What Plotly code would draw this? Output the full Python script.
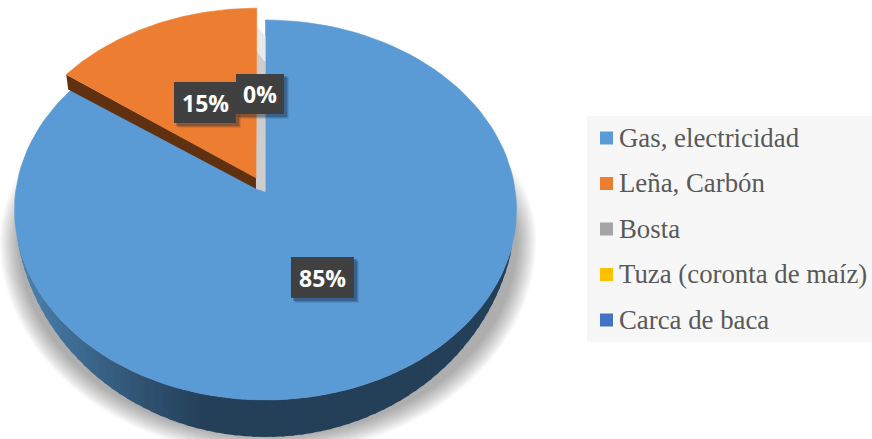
import math
import plotly.graph_objects as go

categories = ["Gas, electricidad", "Leña, Carbón", "Bosta", "Tuza (coronta de maíz)", "Carca de baca"]
values = [85, 15, 0, 0, 0]
colors = ["#5b9bd5", "#ed7d31", "#a5a5a5", "#ffc000", "#4472c4"]

W, H = 872, 439
APEX_X, APEX_Y = 265.5, 192
Q, P, AX = 0.0947, 188.3, 249.9     # perspective of the tilted disc
WALL_CY, WALL_S = 235, 1.224
EXPLODE = 0.085


def project(u, v):
    d = 1 + Q * v
    return APEX_X + AX * u / d, APEX_Y - P * v / d


def wedge(start, end, shift=(0.0, 0.0), n=120):
    """Polygon for a slice; angles are fractions of the turn, clockwise from the top, on the tilted disc."""
    pts = [project(shift[0], shift[1])]
    for i in range(n + 1):
        a = 2 * math.pi * (start + (end - start) * i / n)
        pts.append(project(math.sin(a) + shift[0], math.cos(a) + shift[1]))
    pts.append(pts[0])
    return [p[0] for p in pts], [p[1] for p in pts]


def mix(c1, c2, t):
    return "#" + "".join(f"{round(a + (b - a) * t):02x}" for a, b in zip(c1, c2))


fig = go.Figure()


def poly(xs, ys, fill, line=None, width=0.6):
    fig.add_trace(go.Scatter(x=xs, y=ys, mode="lines", fill="toself", fillcolor=fill,
                             line=dict(width=width if line else 0, color=line or "rgba(0,0,0,0)"),
                             hoverinfo="skip", showlegend=False))


total = sum(values)
blue_frac = values[0] / total
orange_frac = values[1] / total
mid = 1 - orange_frac / 2
shift = (EXPLODE * math.sin(2 * math.pi * mid), EXPLODE * math.cos(2 * math.pi * mid))

# soft cast shadow under the disc
for k in range(0, 20, 2):
    xs, ys = [], []
    for i in range(241):
        a = 2 * math.pi * i / 240
        s = math.sin(a)
        xs.append(268 + (250 + k) * math.cos(a))
        ys.append(240 + ((197 + k) if s > 0 else (120 + 3 * k)) * s)
    poly(xs, ys, "rgba(0,0,0,0.035)")

# outer wall with its gradient
LEFT = (0x4f, 0x88, 0xb8)
DARK = (0x24, 0x3f, 0x58)
N = 90
for i in range(N):
    a0 = math.pi / 2 + math.pi * i / N
    a1 = math.pi / 2 + math.pi * (i + 1) / N + 0.012
    top = [project(math.sin(a), math.cos(a)) for a in (a0, a1)]
    bot = [(x, y if y < WALL_CY else WALL_CY + (y - WALL_CY) * WALL_S) for x, y in top]
    xs = [top[0][0], top[1][0], bot[1][0], bot[0][0], top[0][0]]
    ys = [top[0][1], top[1][1], bot[1][1], bot[0][1], top[0][1]]
    t = max(0.0, min(1.0, (xs[0] - 18) / 190)) if xs[0] < APEX_X else 1.0
    c = mix(LEFT, DARK, t ** 0.8)
    poly(xs, ys, c)

# main slice
xs, ys = wedge(0, blue_frac)
poly(xs, ys, colors[0], colors[0])

# shade seen through the gap between the slices
ox0, oy0 = project(shift[0], shift[1])
tx, ty = project(0, 1)
poly([ox0, APEX_X, APEX_X, ox0], [oy0 + 11, APEX_Y, ty + 42, ty + 30], "#cdcdcd")
poly([ox0, APEX_X, APEX_X, ox0], [ty + 30, ty + 42, ty + 16, ty + 6], "#e9e9e9")

# cut face of the pulled-out slice
xs, ys = wedge(blue_frac, 1, shift, n=1)
poly([xs[0], xs[1], xs[1] + 2, xs[0]], [ys[0], ys[1], ys[1] + 15, ys[0] + 11], "#5f3110")

# pulled-out slice
xs, ys = wedge(blue_frac, 1, shift)
poly(xs, ys, colors[1], colors[1])

# legend built from the categories
LEG_X0, LEG_Y0, LEG_Y1 = 587, 116, 342
rows = [138 + 45.5 * i for i in range(len(categories))]
fig.add_trace(go.Scatter(x=[606.5] * len(categories), y=rows, mode="markers",
                         marker=dict(symbol="square", size=13, color=colors, line=dict(width=0)),
                         hoverinfo="skip", showlegend=False))
fig.add_trace(go.Scatter(x=[619] * len(categories), y=[r + 2 for r in rows], mode="text", text=categories,
                         textposition="middle right",
                         textfont=dict(family="Liberation Serif", size=26.8, color="#595959"),
                         hoverinfo="skip", showlegend=False))

shapes = [dict(type="rect", xref="x", yref="y", x0=LEG_X0, x1=W, y0=LEG_Y0, y1=LEG_Y1,
               fillcolor="#f7f7f7", line_width=0, layer="below")]

# data labels
boxes = [(values[0], 291, 354, 257, 298), (values[1], 174, 236, 82, 123), (values[2], 236, 284, 74, 114)]
annotations = []
for v, x0, x1, y0, y1 in boxes:
    for off, alpha in ((5, 0.10), (4, 0.16), (3, 0.22)):
        shapes.append(dict(type="rect", xref="x", yref="y", x0=x0 + off - 1, x1=x1 + off, y0=y0 + off - 1, y1=y1 + off,
                           fillcolor=f"rgba(10,25,45,{alpha})", line_width=0, layer="above"))
for v, x0, x1, y0, y1 in boxes:
    shapes.append(dict(type="rect", xref="x", yref="y", x0=x0, x1=x1, y0=y0, y1=y1,
                       fillcolor="#404040", line_width=0, layer="above"))
    annotations.append(dict(x=(x0 + x1) / 2, y=(y0 + y1) / 2, xref="x", yref="y", text=f"{v}%", showarrow=False,
                            font=dict(family="Open Sans", size=23, color="white", weight=700)))

fig.update_layout(
    width=W, height=H, margin=dict(l=0, r=0, t=0, b=0),
    paper_bgcolor="white", plot_bgcolor="white", showlegend=False,
    xaxis=dict(range=[0, W], visible=False, fixedrange=True),
    yaxis=dict(range=[H, 0], visible=False, fixedrange=True),
    shapes=shapes, annotations=annotations,
)
fig.write_html("out.html", config=dict(displayModeBar=False),
               post_script="document.body.style.margin='0';document.documentElement.style.overflow='hidden';")
